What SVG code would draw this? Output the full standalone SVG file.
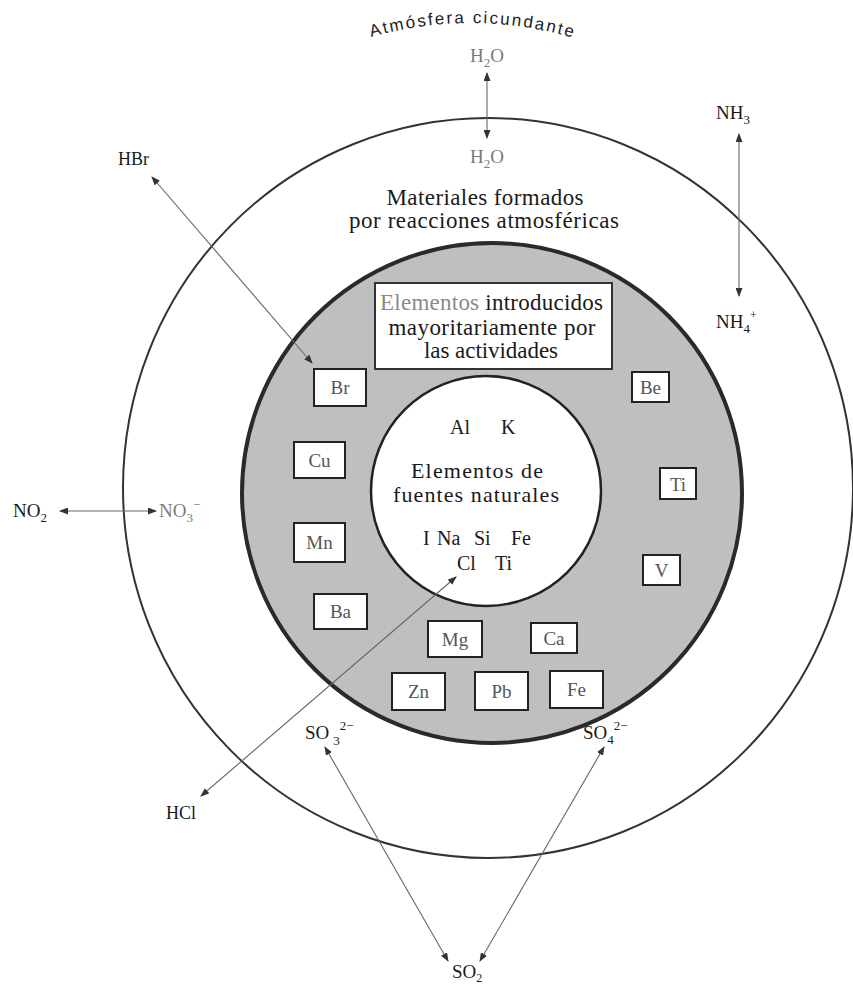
<svg xmlns="http://www.w3.org/2000/svg" width="853" height="985" viewBox="0 0 853 985">
<style>
.t{font-family:"Liberation Serif","Times New Roman",serif;fill:#1a1a1a}
.g{font-family:"Liberation Serif","Times New Roman",serif;fill:#7a7a7a}
.box{fill:#fff;stroke:#222;stroke-width:2}
.bt{font-family:"Liberation Serif","Times New Roman",serif;fill:#555;font-size:19px;text-anchor:middle}
.c{stroke:#666;stroke-width:1.1;fill:none;marker-start:url(#ah);marker-end:url(#ah)}
</style>
<defs>
<marker id="ah" markerUnits="userSpaceOnUse" markerWidth="9" markerHeight="7" refX="8" refY="3.5" orient="auto-start-reverse">
<path d="M0,0 L9,3.5 L0,7 z" fill="#333"/>
</marker>
<path id="arcTop" d="M 371 37 A 364 364 0 0 1 577 39"/>
</defs>
<rect width="853" height="985" fill="#fff"/>

<g id="atmosphere">
<ellipse cx="488" cy="488" rx="365" ry="370" fill="#fff" stroke="#333" stroke-width="2"/>
</g>
<g id="ring">
<circle cx="492" cy="493" r="250" fill="#bfbfbf" stroke="#2a2a2a" stroke-width="4"/>
</g>
<g id="natural">
<circle cx="486" cy="491" r="115" fill="#fff" stroke="#222" stroke-width="2.5"/>
<text class="t" font-size="20" x="450" y="434">Al</text>
<text class="t" font-size="20" x="501" y="434">K</text>
<text class="t" font-size="22" text-anchor="middle" x="477" y="478" textLength="132">Elementos de</text>
<text class="t" font-size="22" text-anchor="middle" x="476" y="502" textLength="166">fuentes naturales</text>
<text class="t" font-size="20" x="423" y="545">I</text>
<text class="t" font-size="20" x="437" y="545">Na</text>
<text class="t" font-size="20" x="474" y="545">Si</text>
<text class="t" font-size="20" x="511" y="545">Fe</text>
<text class="t" font-size="20" x="457" y="570">Cl</text>
<text class="t" font-size="20" x="495" y="570">Ti</text>
</g>

<g id="label-box">
<rect x="375" y="283" width="237" height="86" fill="#fff" stroke="#333" stroke-width="2"/>
<text class="t" font-size="23" x="380" y="310" textLength="223"><tspan fill="#8a8a8a">Elementos</tspan> introducidos</text>
<text class="t" font-size="23" text-anchor="middle" x="492" y="335" textLength="207">mayoritariamente por</text>
<text class="t" font-size="23" text-anchor="middle" x="491" y="358" textLength="134">las actividades</text>
</g>

<g id="title">
<text font-family="'Liberation Sans',Arial,sans-serif" font-size="17" fill="#222"><textPath href="#arcTop" textLength="204">Atmósfera cicundante</textPath></text>
</g>
<g id="materiales">
<text class="t" font-size="23" text-anchor="middle" x="485" y="205" textLength="197">Materiales formados</text>
<text class="t" font-size="23" text-anchor="middle" x="484" y="228" textLength="270">por reacciones atmosféricas</text>
</g>

<g id="node-Br"><rect class="box" x="314" y="369" width="52" height="37"/><text class="bt" x="340" y="394">Br</text></g>
<g id="node-Cu"><rect class="box" x="294" y="442" width="51" height="36"/><text class="bt" x="319.5" y="467">Cu</text></g>
<g id="node-Mn"><rect class="box" x="294" y="523" width="51" height="39"/><text class="bt" x="319.5" y="549">Mn</text></g>
<g id="node-Ba"><rect class="box" x="314" y="594" width="53" height="35"/><text class="bt" x="340.5" y="618">Ba</text></g>
<g id="node-Mg"><rect class="box" x="428" y="621" width="54" height="36"/><text class="bt" x="455" y="646">Mg</text></g>
<g id="node-Ca"><rect class="box" x="531" y="623" width="46" height="30"/><text class="bt" x="554" y="645">Ca</text></g>
<g id="node-Zn"><rect class="box" x="392" y="673" width="53" height="37"/><text class="bt" x="418.5" y="698">Zn</text></g>
<g id="node-Pb"><rect class="box" x="475" y="672" width="53" height="38"/><text class="bt" x="501.5" y="698">Pb</text></g>
<g id="node-Fe"><rect class="box" x="550" y="671" width="53" height="37"/><text class="bt" x="576.5" y="696">Fe</text></g>
<g id="node-Be"><rect class="box" x="632" y="372" width="37" height="30"/><text class="bt" x="650.5" y="394">Be</text></g>
<g id="node-Ti"><rect class="box" x="660" y="468" width="36" height="31"/><text class="bt" x="678" y="491">Ti</text></g>
<g id="node-V"><rect class="box" x="643" y="555" width="37" height="30"/><text class="bt" x="661.5" y="577">V</text></g>

<g id="node-H2O-top"><text class="g" font-size="19" x="470" y="62">H<tspan font-size="13" dy="5">2</tspan><tspan dy="-5">O</tspan></text></g>
<g id="node-H2O-bottom"><text class="g" font-size="19" x="470" y="163">H<tspan font-size="13" dy="5">2</tspan><tspan dy="-5">O</tspan></text></g>
<g id="node-NH3"><text class="t" font-size="19" x="716" y="119">NH<tspan font-size="13" dy="5">3</tspan></text></g>
<g id="node-NH4"><text class="t" font-size="19" x="716" y="328">NH<tspan font-size="13" dy="5">4</tspan><tspan font-size="12" dy="-14">+</tspan></text></g>
<g id="node-HBr"><text class="t" font-size="18" x="118" y="165">HBr</text></g>
<g id="node-NO2"><text class="t" font-size="19" x="13" y="517">NO<tspan font-size="13" dy="5">2</tspan></text></g>
<g id="node-NO3"><text class="g" font-size="19" x="159" y="517">NO<tspan font-size="13" dy="5">3</tspan><tspan font-size="13" dy="-13">−</tspan></text></g>
<g id="node-HCl"><text class="t" font-size="18" x="166" y="819">HCl</text></g>
<g id="node-SO3"><text class="t" font-size="19" x="305" y="739" fill="#333">SO<tspan font-size="13" dx="4" dy="6">3</tspan><tspan font-size="13" dy="-15">2−</tspan></text></g>
<g id="node-SO4"><text class="t" font-size="19" x="583" y="739" fill="#333">SO<tspan font-size="13" dy="5">4</tspan><tspan font-size="13" dy="-14">2−</tspan></text></g>
<g id="node-SO2"><text class="t" font-size="19" x="452" y="978" fill="#444">SO<tspan font-size="12" dy="4">2</tspan></text></g>

<g id="connectors">
<line class="c" x1="487" y1="73" x2="487" y2="138"/>
<line class="c" x1="739" y1="134" x2="739" y2="296"/>
<line class="c" x1="60" y1="511" x2="156" y2="511"/>
<line class="c" x1="152" y1="177" x2="312" y2="363"/>
<line class="c" x1="456" y1="577" x2="201" y2="796"/>
<line class="c" x1="325" y1="747" x2="448" y2="961"/>
<line class="c" x1="604" y1="747" x2="480" y2="961"/>
</g>
</svg>
